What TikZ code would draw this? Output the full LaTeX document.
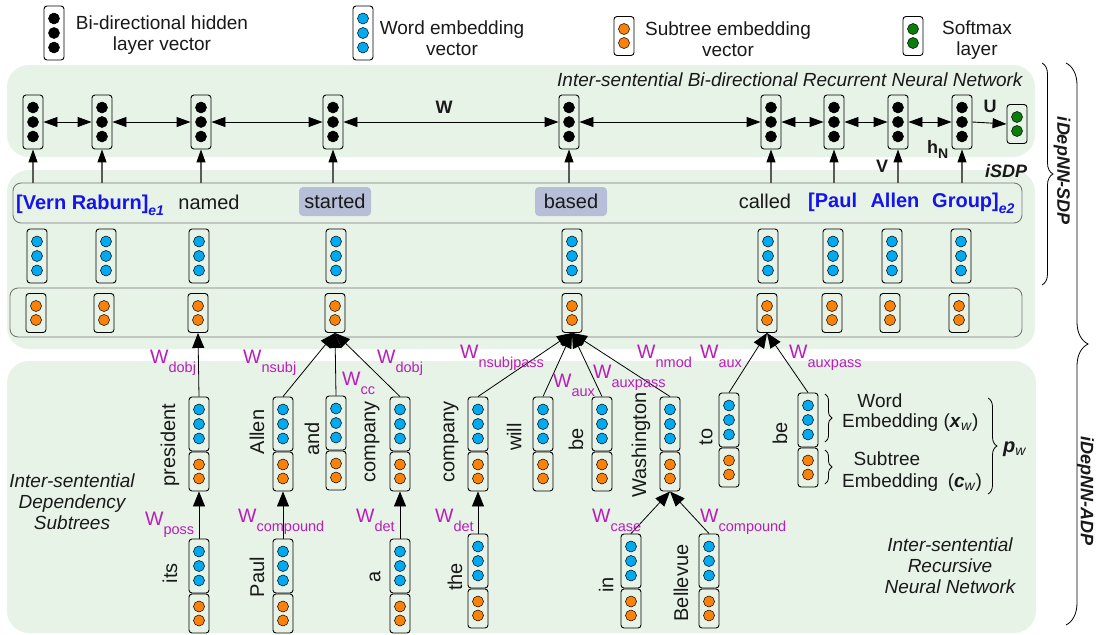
\documentclass[tikz,border=0pt]{standalone}
\usepackage{fontspec}
\setmainfont{Liberation Sans}
\usetikzlibrary{arrows.meta,decorations.pathreplacing,calc}
\definecolor{panelgreen}{RGB}{232,243,232}
\definecolor{rowgray}{RGB}{120,120,120}
\definecolor{wblue}{RGB}{0,170,240}
\definecolor{sorange}{RGB}{250,130,10}
\definecolor{sgreen}{RGB}{10,125,10}
\definecolor{eblue}{RGB}{20,20,235}
\definecolor{wmag}{RGB}{185,30,185}
\definecolor{hlblue}{RGB}{182,190,216}
\definecolor{txt}{RGB}{25,25,25}
\definecolor{linegray}{RGB}{90,90,90}

\newcommand{\vthree}[4]{%
  \node[vecb, minimum height=54pt] (#1) at (#2,#3) {};
  \foreach \dd in {-14.5,0,14.5}{\filldraw[dotc, fill=#4] (#2,{#3+\dd}) circle (5.5pt);}%
}
\newcommand{\vtwo}[4]{%
  \node[vecb, minimum height=39pt] (#1) at (#2,#3) {};
  \foreach \dd in {-7,7}{\filldraw[dotc, fill=#4] (#2,{#3+\dd}) circle (5.5pt);}%
}
\newcommand{\wstack}[3]{%
  \vthree{#1b}{#2}{#3+27}{wblue}%
  \vtwo{#1o}{#2}{#3+74.5}{sorange}%
}
\newcommand{\lowsub}[2][6pt]{\raisebox{-#1}{\fontsize{14}{14}\selectfont #2}}
\newcommand{\wlab}[1]{W\raisebox{-9pt}{\fontsize{14.5}{14.5}\selectfont #1}}

\begin{document}
\begin{tikzpicture}[x=1pt,y=-1pt,
  font=\fontsize{20}{24}\selectfont,
  every node/.style={text=txt, inner sep=0pt},
  vecb/.style={draw=black, line width=0.9pt, rounded corners=3pt, minimum width=20pt, inner sep=0pt},
  dotc/.style={draw=black, line width=0.5pt},
  rowbox/.style={draw=rowgray, line width=0.9pt, rounded corners=8pt, inner sep=0pt},
  panel/.style={fill=panelgreen, rounded corners=22pt},
  biarrow/.style={{Triangle[length=14pt,width=10pt]}-{Triangle[length=14pt,width=10pt]}, line width=0.9pt},
  onearrow/.style={-{Triangle[length=14pt,width=10pt]}, line width=0.9pt},
  uparrow/.style={-{Triangle[length=13pt,width=9pt,color=black]}, draw=linegray, line width=1.1pt},
  treearrow/.style={-{Triangle[length=15pt,width=12pt]}, line width=0.8pt},
  wl/.style={anchor=base west, text=wmag, font=\fontsize{19.5}{19.5}\selectfont},
  legtext/.style={align=center, font=\fontsize{19}{21}\selectfont},
  itlab/.style={font=\itshape\fontsize{19}{21}\selectfont},
  boldlab/.style={font=\bfseries\fontsize{18}{18}\selectfont},
  ewords/.style={text=eblue, font=\bfseries\fontsize{20}{24}\selectfont},
  hl/.style={fill=hlblue, rounded corners=4pt, minimum width=72pt, minimum height=29pt},
  brc/.style={decorate, draw=black, line width=0.8pt},
  sidelab/.style={font=\bfseries\itshape\fontsize{18}{20}\selectfont}
]
\useasboundingbox (0,0) rectangle (1096,635);
\fill[white] (0,0) rectangle (1096,635);

% panels
\fill[panel] (7,65) rectangle (1035,157);
\fill[panel] (7,170) rectangle (1035,349);
\fill[panel] (7,361) rectangle (1036,633);

% row boxes
\node[rowbox, minimum width=1009pt, minimum height=40pt] (wrow) at (517.5,203) {};
\node[rowbox, minimum width=1012pt, minimum height=49pt] (orow) at (516,312.5) {};

% legend
\vthree{legh}{54}{33}{black}
\node[legtext] (legh-t) at (162,35) {Bi-directional hidden\\layer vector};
\vthree{legw}{363}{33}{wblue}
\node[legtext] (legw-t) at (452,38) {Word embedding\\vector};
\vtwo{legs}{624}{36}{sorange}
\node[legtext] (legs-t) at (728,39) {Subtree embedding\\vector};
\vtwo{legm}{913}{36}{sgreen}
\node[legtext] (legm-t) at (977,40) {Softmax\\layer};

% top RNN
\node[itlab, anchor=base west] (rnnlab) at (557,86) {Inter-sentential Bi-directional Recurrent Neural Network};
\foreach \n/\x in {1/33,2/102,3/201,4/333,5/569,6/771,7/834,8/898,9/962}{\vthree{h\n}{\x}{122}{black}}
\vtwo{smx}{1017}{124}{sgreen}
\foreach \a/\b in {1/2,2/3,3/4,4/5,5/6,6/7,7/8,8/9}{\draw[biarrow] (h\a.east) -- (h\b.west);}
\draw[onearrow] (h9.east) -- (smx.west);
\node[boldlab, anchor=base] (lW) at (444,113) {W};
\node[boldlab, anchor=base] (lU) at (990,112) {U};
\node[boldlab, anchor=base] (lV) at (882,172) {V};
\node[boldlab, anchor=base west] (lh) at (927,153) {h\lowsub[5pt]{N}};
\node[sidelab, anchor=base west] (isdp) at (985,177) {iSDP};

% word row
\node[ewords, anchor=base west] (vern) at (16,209) {[Vern Raburn]\lowsub[6pt]{\itshape e1}};
\node[anchor=base] (named) at (209,209) {named};
\node[hl] (started) at (335,201.5) {started};
\node[hl] (based) at (571,201.5) {based};
\node[anchor=base] (called) at (765,208) {called};
\node[ewords, anchor=base west] (paul) at (808,207) {[Paul};
\node[ewords, anchor=base] (allen) at (895,207) {Allen};
\node[ewords, anchor=base west] (group) at (932,207) {Group]\lowsub[6pt]{\itshape e2}};
\foreach \n in {1,...,9}{\draw[uparrow] (h\n.south |- wrow.north) -- (h\n.south);}

% word and subtree embeddings
\foreach \n/\x in {1/37,2/106,3/199,4/336,5/572,6/768,7/833,8/892,9/961}{\vthree{c\n}{\x}{256}{wblue}}
\foreach \n/\x in {1/36,2/104,3/198,4/335,5/572,6/767,7/832,8/890,9/959}{\vtwo{o\n}{\x}{313}{sorange}}

% lower tree stacks
\wstack{president}{199}{397}
\wstack{allen}{283}{397}
\wstack{and}{336}{396}
\wstack{companya}{400}{397}
\wstack{companyb}{478}{397}
\wstack{will}{543}{397}
\wstack{bea}{602}{397}
\wstack{washington}{670}{397}
\wstack{to}{729}{393}
\wstack{beb}{808}{393}
\wstack{its}{199}{539}
\wstack{paulw}{283}{539}
\wstack{a}{400}{539}
\wstack{the}{478}{534}
\wstack{in}{631}{534}
\wstack{bellevue}{709}{534}

% lower words
\node[rotate=90] (t-president) at (170,445) {president};
\node[rotate=90] (t-allen) at (257,432) {Allen};
\node[rotate=90] (t-and) at (312,439) {and};
\node[rotate=90] (t-companya) at (372,442) {company};
\node[rotate=90] (t-companyb) at (451,442) {company};
\node[rotate=90] (t-will) at (514,437) {will};
\node[rotate=90] (t-bea) at (576,439) {be};
\node[rotate=90] (t-washington) at (641,445) {Washington};
\node[rotate=90] (t-to) at (706,437) {to};
\node[rotate=90] (t-beb) at (780,433) {be};
\node[rotate=90] (t-its) at (170,573) {its};
\node[rotate=90] (t-paul) at (257,577) {Paul};
\node[rotate=90] (t-a) at (375,577) {a};
\node[rotate=90] (t-the) at (455,577) {the};
\node[rotate=90] (t-in) at (606,585) {in};
\node[rotate=90] (t-bellevue) at (681,583) {Bellevue};

% tree edges
\draw[treearrow] (presidentb.north) -- (o3.south);
\draw[treearrow] (allenb.north) -- (o4.south);
\draw[treearrow] (andb.north) -- (o4.south);
\draw[treearrow] (companyab.north) -- (o4.south);
\draw[treearrow] (companybb.north) -- (o5.south);
\draw[treearrow] (willb.north) -- (o5.south);
\draw[treearrow] (beab.north) -- (o5.south);
\draw[treearrow] (washingtonb.north) -- (o5.south);
\draw[treearrow] (tob.north) -- (o6.south);
\draw[treearrow] (bebb.north) -- (o6.south);
\draw[treearrow] (itsb.north) -- (presidento.south);
\draw[treearrow] (paulwb.north) -- (alleno.south);
\draw[treearrow] (ab.north) -- (companyao.south);
\draw[treearrow] (theb.north) -- (companybo.south);
\draw[treearrow] (inb.north) -- (washingtono.south);
\draw[treearrow] (bellevueb.north) -- (washingtono.south);

% W labels
\node[wl] (w1) at (150,363) {\wlab{dobj}};
\node[wl] (w2) at (243,363) {\wlab{nsubj}};
\node[wl] (w3) at (342,385) {\wlab{cc}};
\node[wl] (w4) at (377,363) {\wlab{dobj}};
\node[wl] (w5) at (460,358) {\wlab{nsubjpass}};
\node[wl] (w6) at (553,387) {\wlab{aux}};
\node[wl] (w7) at (593,378) {\wlab{auxpass}};
\node[wl] (w8) at (637,358) {\wlab{nmod}};
\node[wl] (w9) at (700,358) {\wlab{aux}};
\node[wl] (w10) at (789,358) {\wlab{auxpass}};
\node[wl] (w11) at (145,525) {\wlab{poss}};
\node[wl] (w12) at (238,522) {\wlab{compound}};
\node[wl] (w13) at (356,522) {\wlab{det}};
\node[wl] (w14) at (435,522) {\wlab{det}};
\node[wl] (w15) at (592,522) {\wlab{case}};
\node[wl] (w16) at (700,522) {\wlab{compound}};

% panel labels
\node[itlab, align=center] (deplab) at (72,502) {Inter-sentential\\Dependency\\Subtrees};
\node[itlab, align=center] (recnn) at (950,566) {Inter-sentential\\Recursive\\Neural Network};

% embedding explanation
\draw[brc, decoration={brace, amplitude=7pt}] (825,394) -- (825,442);
\draw[brc, decoration={brace, amplitude=7pt}] (825,450) -- (825,484);
\draw[brc, decoration={brace, amplitude=9pt}] (988,398) -- (988,494);
\node[anchor=base, font=\fontsize{19}{21}\selectfont] (we1) at (880,407) {Word};
\node[anchor=base west, font=\fontsize{19}{21}\selectfont] (we2) at (842,427) {Embedding (\textbf{\textit{x}}\lowsub[3pt]{\textit{w}})};
\node[anchor=base, font=\fontsize{19}{21}\selectfont] (se1) at (887,465) {Subtree};
\node[anchor=base west, font=\fontsize{19}{21}\selectfont] (se2) at (842,487) {Embedding\enspace(\textbf{\textit{c}}\lowsub[3pt]{\textit{w}})};
\node[anchor=base west, font=\fontsize{20}{22}\selectfont] (pw) at (1003,452) {\textbf{\textit{p}}\lowsub[3pt]{\textit{w}}};

% side braces
\draw[brc, decoration={brace, amplitude=11pt}] (1042,63) -- (1042,285);
\draw[brc, decoration={brace, amplitude=22pt}] (1066,63) -- (1066,625);
\node[sidelab, rotate=-90] (sdp) at (1062,171) {iDepNN-SDP};
\node[sidelab, rotate=-90] (adp) at (1085.5,491) {iDepNN-ADP};
\end{tikzpicture}
\end{document}
